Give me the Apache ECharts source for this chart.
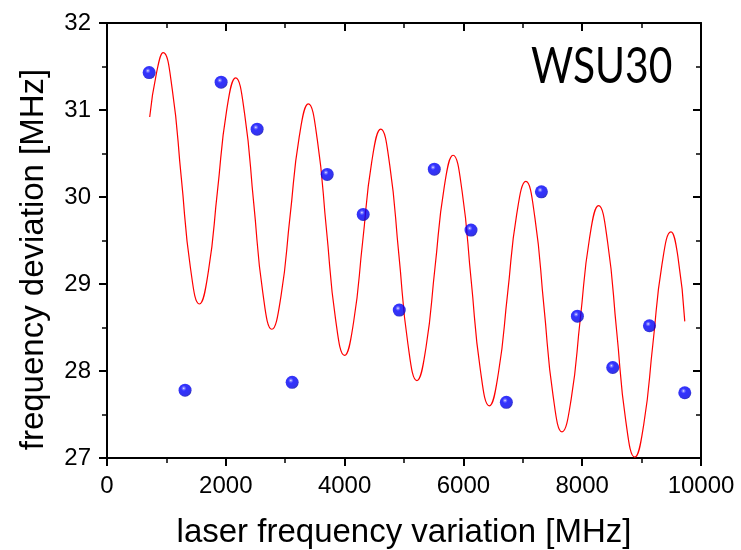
<!DOCTYPE html>
<html><head><meta charset="utf-8">
<script src="https://cdn.jsdelivr.net/npm/echarts@6/dist/echarts.min.js"></script>
<style>html,body{margin:0;padding:0;background:#fff}#c{width:741px;height:550px}</style>
</head><body><div id="c"></div>
<script>
// measured points (laser frequency variation [MHz], frequency deviation [MHz])
const pointX = [710, 1314, 1921, 2527, 3117, 3707, 4313, 4920, 5510, 6128, 6723, 7313, 7919, 8514, 9132, 9727];
const pointY = [31.43, 27.78, 31.32, 30.78, 27.87, 30.26, 29.80, 28.70, 30.32, 29.62, 27.64, 30.06, 28.63, 28.04, 28.52, 27.75];
// fitted red curve
const curveX = [719, 832, 946, 1098, 1251, 1404, 1556, 1708, 1860, 2013, 2165, 2318, 2470, 2623, 2775, 2929, 3082, 3236, 3389, 3542, 3694, 3847, 3999, 4151, 4303, 4456, 4608, 4761, 4913, 5066, 5218, 5370, 5522, 5674, 5826, 5979, 6131, 6284, 6436, 6590, 6744, 6897, 7051, 7204, 7356, 7509, 7661, 7815, 7968, 8122, 8275, 8428, 8580, 8733, 8885, 9037, 9190, 9342, 9494, 9610, 9727];
const curveY = [30.92, 31.42, 31.66, 31.24, 30.22, 29.19, 28.77, 29.15, 30.07, 30.99, 31.37, 30.95, 29.93, 28.90, 28.48, 28.86, 29.78, 30.69, 31.07, 30.65, 29.63, 28.60, 28.18, 28.56, 29.48, 30.40, 30.78, 30.36, 29.34, 28.31, 27.89, 28.27, 29.19, 30.10, 30.48, 30.06, 29.04, 28.02, 27.60, 27.98, 28.89, 29.80, 30.18, 29.76, 28.74, 27.72, 27.30, 27.68, 28.60, 29.52, 29.90, 29.48, 28.46, 27.43, 27.01, 27.39, 28.31, 29.22, 29.60, 29.32, 28.57];
const xMin = 0, xMax = 10000, xStep = 2000;
const yMin = 27, yMax = 32, yStep = 1;
const xTitle = 'laser frequency variation [MHz]';
const yTitle = 'frequency deviation [MHz]';
const label = 'WSU30';

const chart = echarts.init(document.getElementById('c'), null, {renderer: 'canvas'});
const FF = '"Liberation Sans", Arial, sans-serif';
const lineS = {color: '#000', width: 2};
function axisBase(extra) {
  return Object.assign({
    type: 'value',
    axisLine: {show: true, onZero: false, lineStyle: lineS},
    splitLine: {show: false},
  }, extra);
}
const option = {
  animation: false,
  backgroundColor: '#fff',
  grid: {left: 107, right: 40, top: 23, bottom: 92, containLabel: false, outerBoundsMode: 'none'},
  xAxis: [
    axisBase({min: xMin, max: xMax, interval: xStep, position: 'bottom',
      axisTick: {show: true, inside: false, length: 8, lineStyle: lineS},
      minorTick: {show: true, splitNumber: 2, length: 5, lineStyle: {color: '#000', width: 1.5}},
      axisLabel: {fontSize: 24, color: '#000', fontFamily: FF, margin: 16, formatter: v => String(v)},
      name: xTitle, nameLocation: 'middle', nameGap: 58,
      nameTextStyle: {fontSize: 33, color: '#000', fontFamily: FF}}),
    axisBase({min: xMin, max: xMax, interval: xStep, position: 'top',
      axisTick: {show: true, inside: true, length: 8, lineStyle: lineS},
      minorTick: {show: true, splitNumber: 2, length: 5, lineStyle: {color: '#000', width: 1.5}},
      axisLabel: {show: false}})
  ],
  yAxis: [
    axisBase({min: yMin, max: yMax, interval: yStep, position: 'left',
      axisTick: {show: true, inside: false, length: 8, lineStyle: lineS},
      minorTick: {show: true, splitNumber: 2, length: 5, lineStyle: {color: '#000', width: 1.5}},
      axisLabel: {fontSize: 24, color: '#000', fontFamily: FF, margin: 16, formatter: v => String(v)},
      name: yTitle, nameLocation: 'middle', nameGap: 57,
      nameTextStyle: {fontSize: 33, color: '#000', fontFamily: FF, padding: [0, 38, 0, 0]}}),
    axisBase({min: yMin, max: yMax, interval: yStep, position: 'right',
      axisTick: {show: true, inside: true, length: 8, lineStyle: lineS},
      minorTick: {show: true, splitNumber: 2, length: 5, lineStyle: {color: '#000', width: 1.5}},
      axisLabel: {show: false}})
  ],
  graphic: [{
    type: 'text', x: 531, y: 42, scaleX: 0.815, z: 10,
    style: {text: label, fontSize: 50, fontFamily: 'Lato, "Open Sans", sans-serif', fill: '#000'}
  }],
  series: [
    {type: 'line', xAxisIndex: 0, yAxisIndex: 0, showSymbol: false, smooth: 0.5,
      data: curveX.map((x, i) => [x, curveY[i]]),
      lineStyle: {color: '#ff0000', width: 1.2}, z: 2},
    {type: 'scatter', xAxisIndex: 0, yAxisIndex: 0, symbol: 'circle', symbolSize: 13,
      data: pointX.map((x, i) => [x, pointY[i]]),
      itemStyle: {color: {type: 'radial', x: 0.4, y: 0.36, r: 0.68,
        colorStops: [{offset: 0, color: '#f0f0ff'}, {offset: 0.12, color: '#6060ff'},
                     {offset: 0.3, color: '#0000ff'}, {offset: 0.8, color: '#0000e8'}, {offset: 1, color: '#00009a'}]}},
      z: 5}
  ]
};
chart.setOption(option);
</script></body></html>
